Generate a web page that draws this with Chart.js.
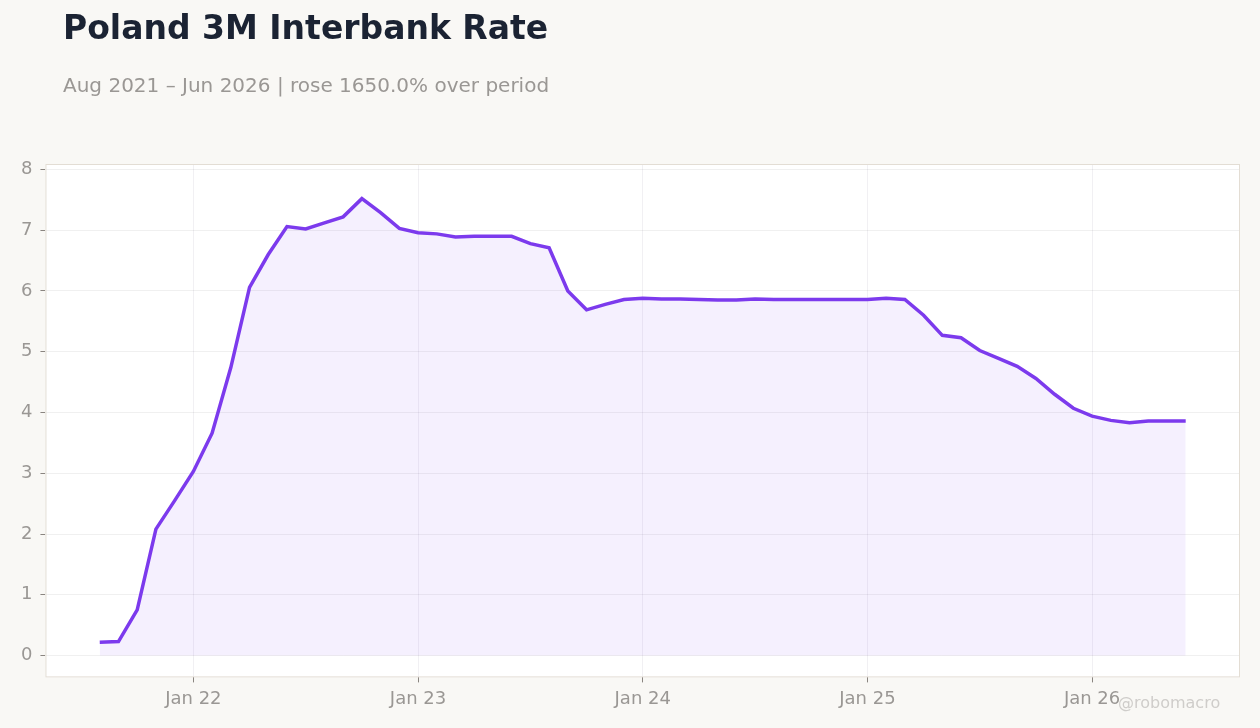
<!DOCTYPE html>
<html>
<head>
<meta charset="utf-8">
<script src="https://cdn.jsdelivr.net/npm/chart.js@4"></script>
<style>
  html, body { margin: 0; padding: 0; background: #f9f8f5; }
  body { width: 1260px; height: 728px; position: relative; overflow: hidden; font-family: "DejaVu Sans", sans-serif; }
  #title { position: absolute; left: 63px; top: 9px; font-size: 33px; line-height: 1.164; font-weight: bold; color: #1b2333; white-space: nowrap; }
  #subtitle { position: absolute; left: 63px; top: 74px; font-size: 20px; line-height: 1.164; color: #9a9794; white-space: nowrap; }
  #credit { position: absolute; left: 1118px; top: 694px; font-size: 16px; line-height: 1.164; color: #cfcdca; white-space: nowrap; }
  #wrap { position: absolute; left: 0; top: 0; width: 1260px; height: 728px; }
</style>
</head>
<body>
<div id="wrap"><canvas id="rateChart"></canvas></div>
<div id="title">Poland 3M Interbank Rate</div>
<div id="subtitle">Aug 2021 – Jun 2026 | rose 1650.0% over period</div>
<div id="credit">@robomacro</div>
<script>
// monthly, Aug 2021 .. Jun 2026
const rates = [
    0.22, 0.23, 0.75, 2.08, 2.55,                                     // 2021
    3.03, 3.66, 4.74, 6.06, 6.60, 7.06, 7.02, 7.12, 7.22, 7.52, 7.29, 7.03, // 2022
    6.96, 6.94, 6.89, 6.90, 6.90, 6.90, 6.78, 6.71, 6.00, 5.69, 5.78, 5.86, // 2023
    5.88, 5.87, 5.87, 5.86, 5.85, 5.85, 5.87, 5.86, 5.86, 5.86, 5.86, 5.86, // 2024
    5.86, 5.88, 5.86, 5.60, 5.27, 5.23, 5.02, 4.89, 4.76, 4.56, 4.30, 4.07, // 2025
    3.94, 3.87, 3.83, 3.86, 3.86, 3.86                                // 2026
];
const xTickIndex = [5, 17, 29, 41, 53];
const xTickLabels = ['Jan 22', 'Jan 23', 'Jan 24', 'Jan 25', 'Jan 26'];
const yTicks = [0, 1, 2, 3, 4, 5, 6, 7, 8];

const points = rates.map((v, i) => ({ x: i, y: v }));

// white plot panel with a thin border
const panel = {
    id: 'panel',
    beforeDraw(chart) {
        const { ctx, chartArea: a } = chart;
        ctx.save();
        ctx.fillStyle = '#ffffff';
        ctx.fillRect(a.left, a.top, a.right - a.left, a.bottom - a.top);
        ctx.restore();
    },
    afterDatasetsDraw(chart) {
        const { ctx, chartArea: a } = chart;
        ctx.save();
        ctx.strokeStyle = '#e3ddd4';
        ctx.lineWidth = 1;
        ctx.strokeRect(a.left + 0.5, a.top + 0.5, a.right - a.left - 1, a.bottom - a.top - 1);
        ctx.restore();
    }
};

Chart.defaults.font.family = '"DejaVu Sans", sans-serif';

const ctx = document.getElementById('rateChart').getContext('2d');
const rateChart = new Chart(ctx, {
    type: 'line',
    data: {
        datasets: [
            {
                label: 'Poland 3M Interbank Rate',
                data: points,
                borderColor: '#7c3aed',
                backgroundColor: 'rgba(124, 58, 237, 0.08)',
                borderWidth: 3.5,
                pointRadius: 0,
                fill: 'origin',
                tension: 0
            }
        ]
    },
    options: {
        responsive: true,
        maintainAspectRatio: false,
        animation: false,
        layout: {
            padding: { left: 13, right: 20, top: 164, bottom: 12 }
        },
        scales: {
            x: {
                type: 'linear',
                min: -2.9,
                max: 60.9,
                afterBuildTicks(scale) {
                    scale.ticks = xTickIndex.map(v => ({ value: v }));
                },
                ticks: {
                    autoSkip: false,
                    maxRotation: 0,
                    color: '#9a9794',
                    font: { size: 18 },
                    padding: 6,
                    callback(value) {
                        const k = xTickIndex.indexOf(value);
                        return k >= 0 ? xTickLabels[k] : '';
                    }
                },
                grid: {
                    color: 'rgba(60, 40, 90, 0.07)',
                    tickColor: '#8a8580',
                    tickLength: 5
                },
                border: { display: false }
            },
            y: {
                min: -0.36,
                max: 8.09,
                afterBuildTicks(scale) {
                    scale.ticks = yTicks.map(v => ({ value: v }));
                },
                ticks: {
                    color: '#9a9794',
                    font: { size: 18 },
                    padding: 8
                },
                grid: {
                    color: 'rgba(0, 0, 0, 0.06)',
                    tickColor: '#8a8580',
                    tickLength: 5
                },
                border: { display: false }
            }
        },
        plugins: {
            legend: { display: false },
            tooltip: { enabled: false }
        }
    },
    plugins: [panel]
});
</script>
</body>
</html>
